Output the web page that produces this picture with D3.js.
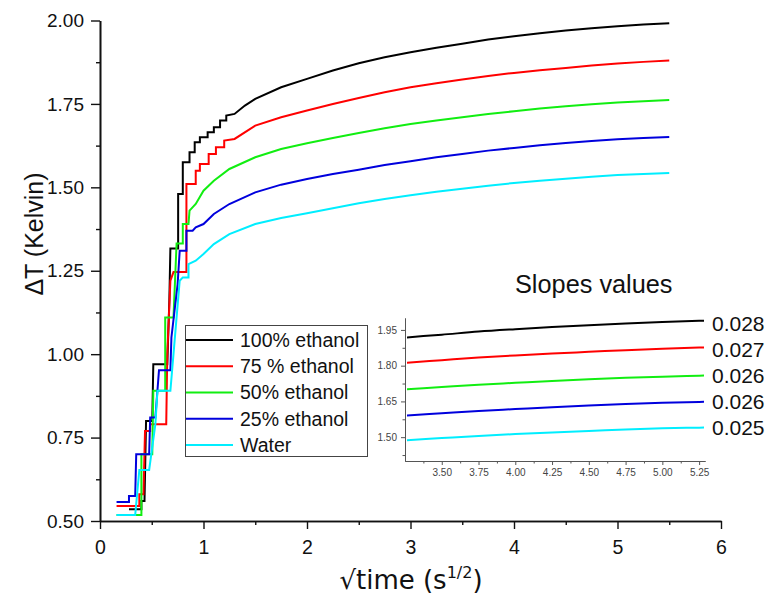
<!DOCTYPE html>
<html><head><meta charset="utf-8">
<script src="https://cdn.jsdelivr.net/npm/d3@7"></script>
<style>
html,body{margin:0;padding:0;background:#fff;}
svg{display:block;font-family:"Liberation Sans",Arial,sans-serif;}
</style></head>
<body><svg id="chart" width="768" height="595"></svg>
<script>
// ---------------- data ----------------
const seriesNames = ["100% ethanol", "75 % ethanol", "50% ethanol", "25% ethanol", "Water"];
const seriesColors = ["#000000", "#ff0000", "#11ee11", "#0000dd", "#00eeff"];
const slopeLabels = ["0.028", "0.027", "0.026", "0.026", "0.025"];
const xTicks = [0, 1, 2, 3, 4, 5, 6];
const yTicks = [0.50, 0.75, 1.00, 1.25, 1.50, 1.75, 2.00];
const insetXTicks = [3.50, 3.75, 4.00, 4.25, 4.50, 4.75, 5.00, 5.25];
const insetYTicks = [1.50, 1.65, 1.80, 1.95];

// [sqrt(time), deltaT]
const ethanol100 = [[0.28,0.535],[0.40,0.535],[0.40,0.56],[0.43,0.56],[0.445,0.80],[0.505,0.80],[0.515,0.97],[0.65,0.97],[0.67,1.16],[0.68,1.317],[0.755,1.317],[0.755,1.48],[0.80,1.48],[0.80,1.575],[0.865,1.575],[0.865,1.605],[0.915,1.605],[0.915,1.635],[0.965,1.635],[0.965,1.65],[1.04,1.65],[1.04,1.665],[1.1,1.665],[1.1,1.68],[1.16,1.68],[1.16,1.70],[1.22,1.70],[1.22,1.715],[1.3,1.72],[1.4,1.745],[1.5,1.765],[1.75,1.80],[2.0,1.825],[2.25,1.85],[2.5,1.872],[2.75,1.89],[3.0,1.905],[3.25,1.918],[3.5,1.93],[3.75,1.943],[4.0,1.953],[4.25,1.962],[4.5,1.97],[4.75,1.977],[5.0,1.983],[5.25,1.988],[5.5,1.992]];
const ethanol75 = [[0.16,0.545],[0.38,0.545],[0.38,0.58],[0.42,0.58],[0.435,0.77],[0.485,0.77],[0.485,0.79],[0.64,0.79],[0.65,1.0],[0.68,1.22],[0.71,1.246],[0.835,1.246],[0.835,1.51],[0.925,1.51],[0.925,1.55],[0.965,1.55],[0.965,1.57],[1.05,1.57],[1.05,1.60],[1.12,1.60],[1.12,1.62],[1.2,1.62],[1.2,1.64],[1.3,1.645],[1.5,1.685],[1.75,1.71],[2.0,1.73],[2.25,1.75],[2.5,1.768],[2.75,1.785],[3.0,1.80],[3.25,1.812],[3.5,1.823],[3.75,1.834],[4.0,1.843],[4.25,1.851],[4.5,1.858],[4.75,1.865],[5.0,1.871],[5.25,1.876],[5.5,1.88]];
const ethanol50 = [[0.16,0.518],[0.40,0.518],[0.40,0.70],[0.505,0.70],[0.515,0.89],[0.63,0.89],[0.63,1.11],[0.71,1.11],[0.74,1.332],[0.80,1.332],[0.80,1.39],[0.855,1.39],[0.865,1.43],[0.925,1.45],[1.0,1.49],[1.1,1.52],[1.25,1.555],[1.5,1.59],[1.75,1.615],[2.0,1.632],[2.25,1.648],[2.5,1.663],[2.75,1.677],[3.0,1.69],[3.25,1.70],[3.5,1.71],[3.75,1.72],[4.0,1.728],[4.25,1.736],[4.5,1.743],[4.75,1.749],[5.0,1.754],[5.25,1.758],[5.5,1.762]];
const ethanol25 = [[0.16,0.557],[0.28,0.557],[0.28,0.575],[0.34,0.575],[0.35,0.70],[0.475,0.70],[0.485,0.81],[0.535,0.81],[0.57,0.952],[0.68,0.952],[0.69,1.05],[0.75,1.21],[0.77,1.31],[0.835,1.31],[0.835,1.37],[0.895,1.37],[0.925,1.38],[1.0,1.39],[1.1,1.42],[1.25,1.45],[1.5,1.485],[1.75,1.508],[2.0,1.525],[2.25,1.54],[2.5,1.553],[2.75,1.567],[3.0,1.578],[3.25,1.59],[3.5,1.60],[3.75,1.61],[4.0,1.618],[4.25,1.626],[4.5,1.633],[4.75,1.639],[5.0,1.644],[5.25,1.648],[5.5,1.651]];
const water = [[0.16,0.518],[0.34,0.518],[0.38,0.653],[0.475,0.653],[0.535,0.79],[0.555,0.89],[0.68,0.89],[0.71,1.0],[0.77,1.22],[0.80,1.23],[0.855,1.23],[0.855,1.27],[0.925,1.28],[1.0,1.30],[1.1,1.33],[1.25,1.36],[1.5,1.39],[1.75,1.408],[2.0,1.422],[2.25,1.437],[2.5,1.452],[2.75,1.465],[3.0,1.476],[3.25,1.487],[3.5,1.496],[3.75,1.505],[4.0,1.513],[4.25,1.52],[4.5,1.526],[4.75,1.532],[5.0,1.537],[5.25,1.54],[5.5,1.543]];
const seriesData = [ethanol100, ethanol75, ethanol50, ethanol25, water];

// ---------------- drawing ----------------
const svg = d3.select("#chart");
const x = d3.scaleLinear().domain([0, 6]).range([100, 721]);
const y = d3.scaleLinear().domain([0.5, 2.0]).range([521, 20.5]);

const xAxis = d3.axisBottom(x).tickValues(xTicks).tickFormat(d3.format("d")).tickSize(8).tickSizeOuter(0);
const xMinor = d3.axisBottom(x).tickValues(d3.range(0.5, 6, 1)).tickFormat("").tickSize(4).tickSizeOuter(0);
const yAxis = d3.axisLeft(y).tickValues(yTicks).tickFormat(d3.format(".2f")).tickSize(9).tickSizeOuter(0);
const yMinor = d3.axisLeft(y).tickValues(d3.range(0.625, 2.0, 0.25)).tickFormat("").tickSize(4).tickSizeOuter(0);

function styleAxis(g){
  g.select(".domain").attr("stroke","#111").attr("stroke-width",1.6);
  g.selectAll(".tick line").attr("stroke","#111").attr("stroke-width",1.4);
}
svg.append("g").attr("transform","translate(0,521)").call(xMinor).call(styleAxis);
const gx = svg.append("g").attr("transform","translate(0,521)").call(xAxis).call(styleAxis);
gx.selectAll(".tick text").attr("font-size",19.5).attr("fill","#111").attr("dy","0").attr("y",33);
svg.append("g").attr("transform","translate(100,0)").call(yMinor).call(styleAxis);
const gy = svg.append("g").attr("transform","translate(100,0)").call(yAxis).call(styleAxis);
gy.selectAll(".tick text").attr("font-size",19).attr("fill","#111").attr("x",-16);

// lines
const line = d3.line().x(d => x(d[0])).y(d => y(d[1]));
svg.append("g").selectAll("path").data(seriesData).join("path")
  .attr("d", line).attr("fill","none")
  .attr("stroke",(d,i)=>seriesColors[i]).attr("stroke-width",2).attr("stroke-linejoin","miter");

// axis labels
svg.append("text").attr("transform","translate(43,234) rotate(-90)").attr("text-anchor","middle")
  .attr("font-size",25).attr("fill","#111").text("ΔT (Kelvin)");
const xl = svg.append("text").attr("x",411).attr("y",589).attr("text-anchor","middle")
  .attr("font-family","'DejaVu Sans',Verdana,sans-serif")
  .attr("font-size",26).attr("fill","#111");
xl.append("tspan").text("√time (s");
xl.append("tspan").attr("font-size",16).attr("dy",-11).text("1/2");
xl.append("tspan").attr("dy",11).text(")");

// legend
const lg = svg.append("g");
lg.append("rect").attr("x",185.5).attr("y",325.5).attr("width",182).attr("height",131)
  .attr("fill","#fff").attr("stroke","#444").attr("stroke-width",1);
const legendY = d3.scalePoint().domain(seriesNames).range([340, 445]);
seriesNames.forEach((n,i)=>{
  lg.append("line").attr("x1",186).attr("x2",233).attr("y1",legendY(n)).attr("y2",legendY(n))
    .attr("stroke",seriesColors[i]).attr("stroke-width",2.2);
  lg.append("text").attr("x",240).attr("y",legendY(n)).attr("dy","0.35em")
    .attr("font-size",19.5).attr("fill","#111").text(n);
});

// inset
const ix = d3.scaleLinear().domain([3.25, 5.29]).range([405, 705]);
const iy = d3.scaleLinear().domain([1.4, 2.0]).range([461, 318]);
const ig = svg.append("g");
ig.append("defs").append("clipPath").attr("id","insetclip").append("rect")
  .attr("x",407).attr("y",310).attr("width",297).attr("height",151);
const ixAxis = d3.axisBottom(ix).tickValues(insetXTicks).tickFormat(d3.format(".2f")).tickSize(4).tickSizeOuter(0);
const ixMinor = d3.axisBottom(ix).tickValues(d3.range(3.375, 5.29, 0.25)).tickFormat("").tickSize(2.5).tickSizeOuter(0);
const iyAxis = d3.axisLeft(iy).tickValues(insetYTicks).tickFormat(d3.format(".2f")).tickSize(4).tickSizeOuter(0);
const iyMinor = d3.axisLeft(iy).tickValues([1.425,1.575,1.725,1.875]).tickFormat("").tickSize(2.5).tickSizeOuter(0);
function styleInset(g){
  g.select(".domain").attr("stroke","#555").attr("stroke-width",1);
  g.selectAll(".tick line").attr("stroke","#555").attr("stroke-width",1);
  g.selectAll(".tick text").attr("font-size",10).attr("fill","#444");
}
ig.append("g").attr("transform","translate(0,461)").call(ixMinor).call(styleInset);
ig.append("g").attr("transform","translate(0,461)").call(ixAxis).call(styleInset).selectAll(".tick text").attr("y",8);
ig.append("g").attr("transform","translate(405,0)").call(iyMinor).call(styleInset);
ig.append("g").attr("transform","translate(405,0)").call(iyAxis).call(styleInset).selectAll(".tick text").attr("x",-8);
const iline = d3.line().x(d => ix(d[0])).y(d => iy(d[1])).curve(d3.curveMonotoneX);
ig.append("g").attr("clip-path","url(#insetclip)").selectAll("path")
  .data(seriesData.map(s => s.filter(d => d[0] >= 3.0)))
  .join("path").attr("d", iline).attr("fill","none")
  .attr("stroke",(d,i)=>seriesColors[i]).attr("stroke-width",2);

// slope labels
const slopeY = [331, 357, 383, 409, 435];
slopeLabels.forEach((s,i)=>{
  svg.append("text").attr("x",712).attr("y",slopeY[i]).attr("font-size",21).attr("fill","#111").text(s);
});
svg.append("text").attr("x",515).attr("y",293).attr("font-size",25.3).attr("fill","#111").text("Slopes values");
</script></body></html>
